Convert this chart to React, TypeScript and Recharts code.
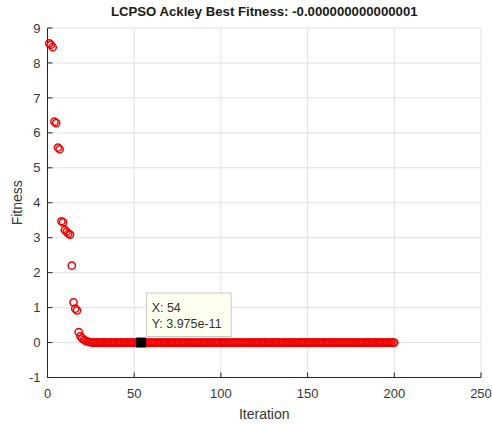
import { ScatterChart, Scatter, XAxis, YAxis, CartesianGrid, Label } from "recharts";

const chartTitle = "LCPSO Ackley Best Fitness: -0.000000000000001";
const xLabel = "Iteration";
const yLabel = "Fitness";
const xTicks = [0, 50, 100, 150, 200, 250];
const yTicks = [-1, 0, 1, 2, 3, 4, 5, 6, 7, 8, 9];

// best fitness per iteration (1..200)
const fitness = [
  8.56, 8.52, 8.45, 6.32, 6.28, 5.58, 5.53, 3.47, 3.44, 3.22,
  3.17, 3.12, 3.09, 2.2, 1.15, 0.97, 0.92, 0.3, 0.18, 0.12,
  0.08, 0.05, 0.03, 0.015, 0.008, 0, 0, 0, 0, 0,
  0, 0, 0, 0, 0, 0, 0, 0, 0, 0,
  0, 0, 0, 0, 0, 0, 0, 0, 0, 0,
  0, 0, 0, 0, 0, 0, 0, 0, 0, 0,
  0, 0, 0, 0, 0, 0, 0, 0, 0, 0,
  0, 0, 0, 0, 0, 0, 0, 0, 0, 0,
  0, 0, 0, 0, 0, 0, 0, 0, 0, 0,
  0, 0, 0, 0, 0, 0, 0, 0, 0, 0,
  0, 0, 0, 0, 0, 0, 0, 0, 0, 0,
  0, 0, 0, 0, 0, 0, 0, 0, 0, 0,
  0, 0, 0, 0, 0, 0, 0, 0, 0, 0,
  0, 0, 0, 0, 0, 0, 0, 0, 0, 0,
  0, 0, 0, 0, 0, 0, 0, 0, 0, 0,
  0, 0, 0, 0, 0, 0, 0, 0, 0, 0,
  0, 0, 0, 0, 0, 0, 0, 0, 0, 0,
  0, 0, 0, 0, 0, 0, 0, 0, 0, 0,
  0, 0, 0, 0, 0, 0, 0, 0, 0, 0,
  0, 0, 0, 0, 0, 0, 0, 0, 0, 0,
];

const tipIteration = 54;
const tipFitness = 3.975e-11;
const tipLines = ["X: 54", "Y: 3.975e-11"];

const points = fitness.map((f, i) => ({ iteration: i + 1, fitness: f }));
const tipPoint = [{ iteration: tipIteration, fitness: tipFitness }];

const axisColor = "#262626";
const textColor = "#363636";
const font = "'Liberation Sans', Arial, sans-serif";

const BottomTick = ({ x, y, payload }: any) => (
  <g>
    <line x1={x} y1={y} x2={x} y2={y - 5} stroke={axisColor} />
    <text x={x} y={y + 20} textAnchor="middle" fill={textColor} fontSize={13}>
      {payload.value}
    </text>
  </g>
);

const LeftTick = ({ x, y, payload }: any) => (
  <g>
    <line x1={x} y1={y} x2={x + 5} y2={y} stroke={axisColor} />
    <text x={x - 7} y={y + 4.6} textAnchor="end" fill={textColor} fontSize={13}>
      {payload.value}
    </text>
  </g>
);

const TopTick = ({ x, y }: any) => <line x1={x} y1={y} x2={x} y2={y + 5} stroke={axisColor} />;
const RightTick = ({ x, y }: any) => <line x1={x} y1={y} x2={x - 5} y2={y} stroke={axisColor} />;

const Ring = ({ cx, cy }: any) => (
  <circle cx={cx} cy={cy} r={3.6} fill="none" stroke="#f00000" strokeWidth={1.5} />
);

const DataTip = ({ cx, cy }: any) => (
  <g>
    <rect x={cx - 5} y={cy - 5} width={10} height={10} fill="#000" />
    <rect x={cx + 5.5} y={cy - 49.5} width={84.5} height={43.5} fill="#fffff0" stroke="#c8c8c8" />
    <text x={cx + 10.5} y={cy - 31} fontSize={12.5} fill="#333">{tipLines[0]}</text>
    <text x={cx + 10.5} y={cy - 14.5} fontSize={12.5} fill="#333">{tipLines[1]}</text>
  </g>
);

export default function App() {
  return (
    <div style={{ position: "absolute", left: 0, top: 0, width: 492, height: 424, background: "#fff", fontFamily: font }}>
      <div
        style={{
          position: "absolute", left: 47.5, top: 4, width: 433.5, textAlign: "center",
          fontSize: 13.2, fontWeight: "bold", color: "#1a1a1a", lineHeight: "16px",
        }}
      >
        {chartTitle}
      </div>
      <ScatterChart width={492} height={424} margin={{ top: 28, right: 11, bottom: 0, left: 0 }}>
        <CartesianGrid stroke="#e2e2e2" />
        <XAxis
          dataKey="iteration" type="number" domain={[0, 250]} ticks={xTicks}
          height={46.5} tickSize={0} tickMargin={0} tickLine={false}
          axisLine={{ stroke: axisColor }} tick={<BottomTick />} interval={0}
        >
          <Label value={xLabel} position="insideBottom" offset={5} fill={textColor} fontSize={14} />
        </XAxis>
        <XAxis
          xAxisId="top" orientation="top" mirror type="number" domain={[0, 250]} ticks={xTicks}
          height={0} tickSize={0} tickMargin={0} tickLine={false}
          axisLine={{ stroke: axisColor }} tick={<TopTick />} interval={0}
        />
        <YAxis
          dataKey="fitness" type="number" domain={[-1, 9]} ticks={yTicks}
          width={47.5} tickSize={0} tickMargin={0} tickLine={false}
          axisLine={{ stroke: axisColor }} tick={<LeftTick />} interval={0}
        >
          <Label
            value={yLabel} angle={-90} position="insideLeft" offset={17}
            fill={textColor} fontSize={14} style={{ textAnchor: "middle" }}
          />
        </YAxis>
        <YAxis
          yAxisId="right" orientation="right" mirror type="number" domain={[-1, 9]} ticks={yTicks}
          width={0} tickSize={0} tickMargin={0} tickLine={false}
          axisLine={{ stroke: axisColor }} tick={<RightTick />} interval={0}
        />
        <Scatter data={points} shape={<Ring />} isAnimationActive={false} />
        <Scatter data={tipPoint} shape={<DataTip />} isAnimationActive={false} />
      </ScatterChart>
    </div>
  );
}
